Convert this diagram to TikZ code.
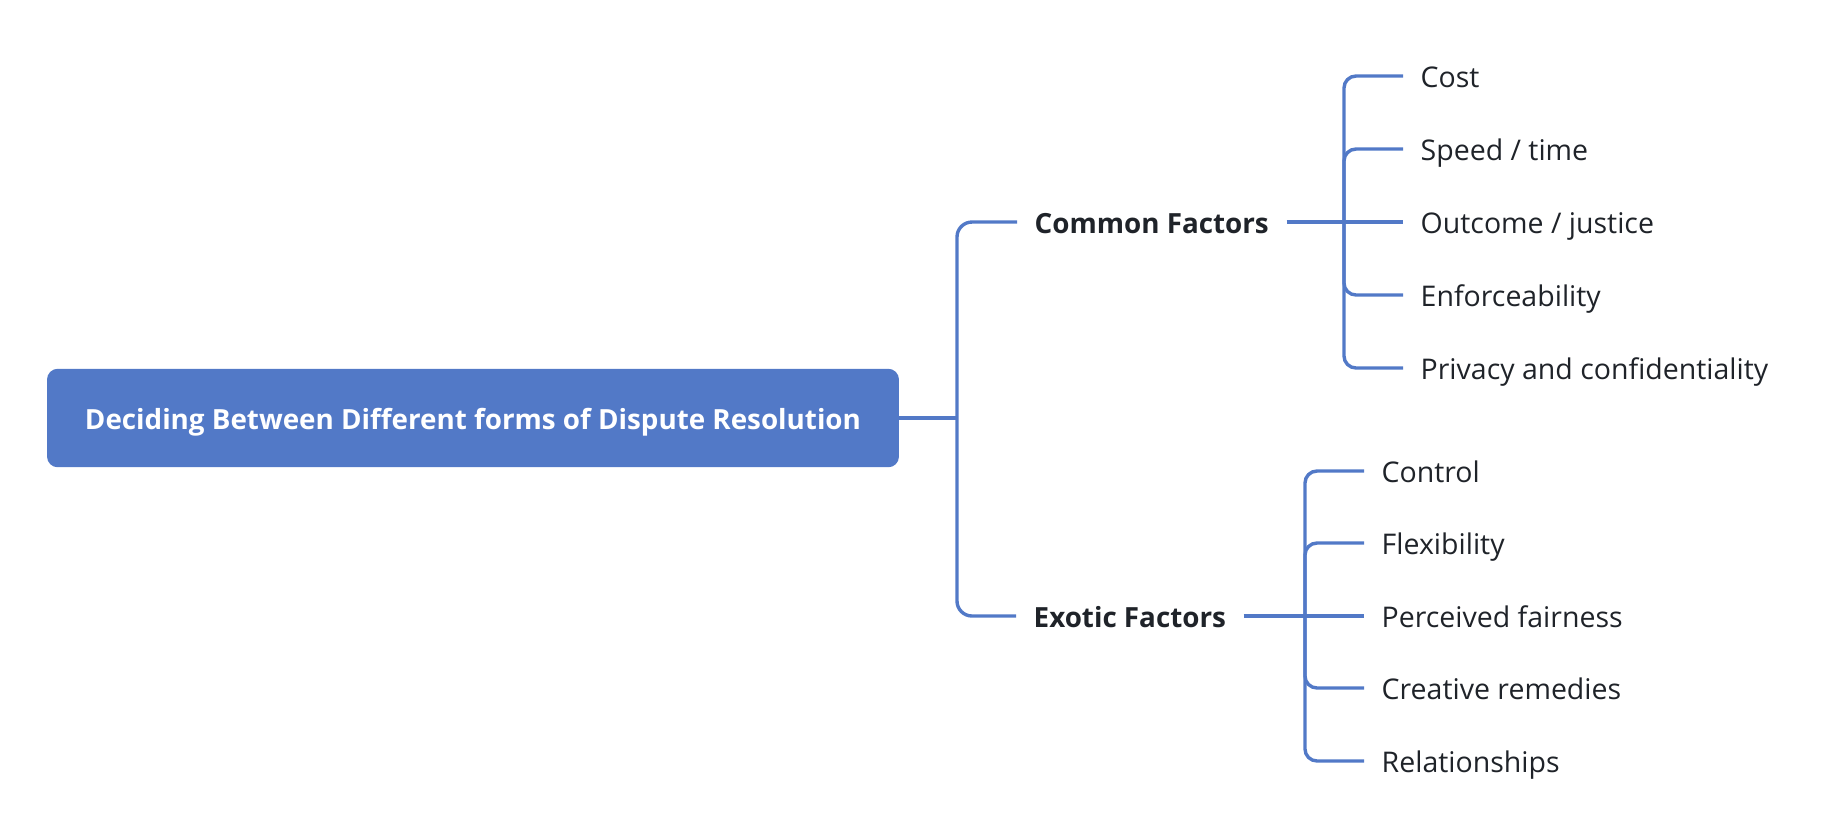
\documentclass[tikz,border=0pt]{standalone}
\usepackage{fontspec}
\setmainfont{Open Sans}
\usepackage{tikz}
\definecolor{mapblue}{RGB}{82,121,199}
\definecolor{maptext}{RGB}{31,35,41}
\newcommand{\mapfont}{\fontsize{8.1}{9.7}\selectfont}
\newcommand{\mapbold}{\bfseries\fontsize{7.9}{9.5}\selectfont}
\tikzstyle{rootbox} = [draw=mapblue, fill=mapblue, rounded corners=0.1cm,
    minimum width=8.5cm, minimum height=0.97cm, text=white,
    font=\mapbold, text height=6.8pt, text depth=0pt]
\tikzstyle{topic} = [anchor=west, inner xsep=0.17cm, text=maptext,
    font=\mapbold, text height=6.6pt, text depth=0pt]
\tikzstyle{leaf} = [topic, font=\mapfont, text height=6.8pt]
\tikzstyle{branch} = [draw=mapblue, line width=0.034cm, rounded corners=0.15cm]

\begin{document}
\begin{tikzpicture}[x=0.01cm, y=-0.01cm]
                \useasboundingbox (0,0) rectangle (1832,838);
                \node [rootbox] (root) at (473,418) {Deciding Between Different forms of Dispute Resolution};
                \node [topic] (common) at (1017,222) {Common Factors};
                \node [topic] (exotic) at (1016,616) {Exotic Factors};
                \coordinate (rootjoin) at (957,418);
                \coordinate (commonjoin) at (1344,222);
                \coordinate (exoticjoin) at (1305,616);
                \node [leaf] (cost) at (1403,76) {Cost};
                \node [leaf] (speed) at (1403,149) {Speed / time};
                \node [leaf] (outcome) at (1403,222) {Outcome / justice};
                \node [leaf] (enforce) at (1403,295) {Enforceability};
                \node [leaf] (privacy) at (1403,368) {Privacy and confidentiality};
                \node [leaf] (control) at (1364,471) {Control};
                \node [leaf] (flexibility) at (1364,543) {Flexibility};
                \node [leaf] (fairness) at (1364,616) {Perceived fairness};
                \node [leaf] (remedies) at (1364,688) {Creative remedies};
                \node [leaf] (relations) at (1364,761) {Relationships};
                \draw [branch] (root.east) -- (rootjoin);
                \draw [branch] (common.west) -| (rootjoin) |- (exotic.west);
                \draw [branch] (common.east) -- (outcome.west);
                \foreach \leafname in {cost,speed,enforce,privacy}
                    \draw [branch, rounded corners=0.12cm] (\leafname.west) -| (commonjoin);
                \draw [branch] (exotic.east) -- (fairness.west);
                \foreach \leafname in {control,flexibility,remedies,relations}
                    \draw [branch, rounded corners=0.12cm] (\leafname.west) -| (exoticjoin);
            \end{tikzpicture}
\end{document}
